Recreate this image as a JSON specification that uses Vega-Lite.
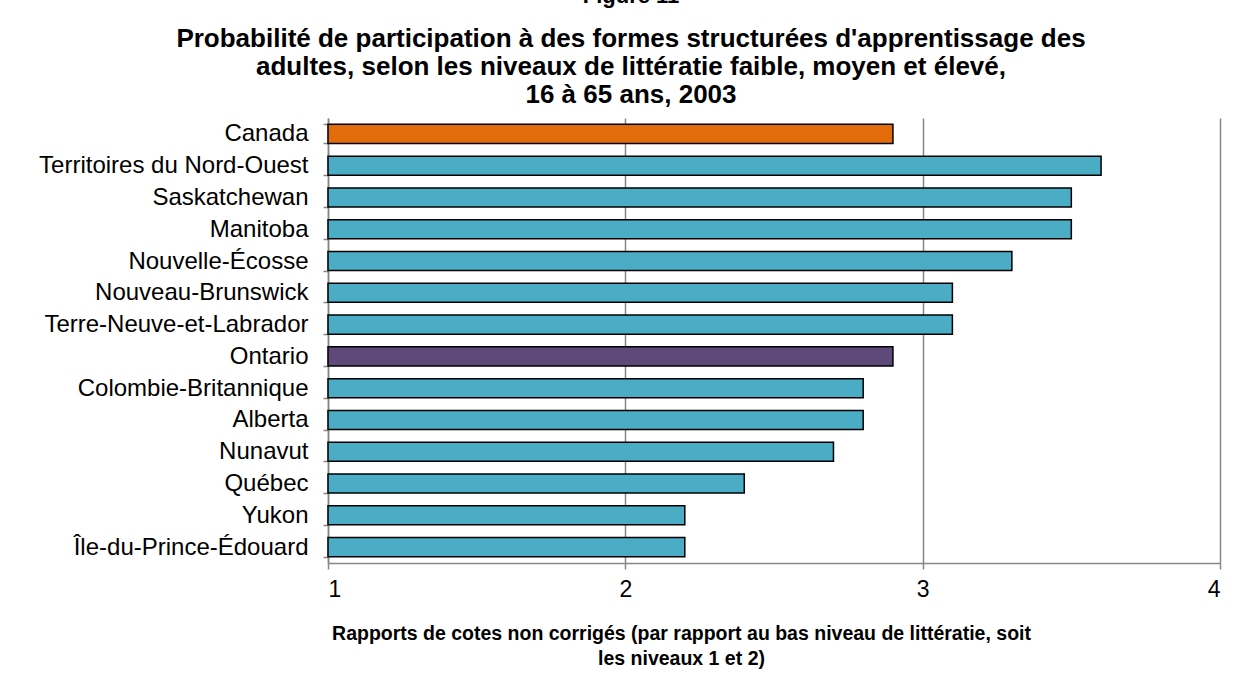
{
  "$schema": "https://vega.github.io/schema/vega-lite/v6.json",
  "autosize": {"type": "none"},
  "width": 892,
  "height": 445,
  "padding": {"left": 328, "top": 118, "right": 23, "bottom": 112},
  "background": "white",
  "title": {
    "text": "Figure 11",
    "subtitle": [
      "Probabilité de participation à des formes structurées d'apprentissage des",
      "adultes, selon les niveaux de littératie faible, moyen et élevé,",
      "16 à 65 ans, 2003"
    ],
    "anchor": "middle",
    "dx": -143,
    "font": "Liberation Sans",
    "fontSize": 22,
    "fontWeight": "bold",
    "color": "black",
    "subtitleFont": "Liberation Sans",
    "subtitleFontSize": 26,
    "subtitleFontWeight": "bold",
    "subtitleColor": "black",
    "subtitleLineHeight": 28,
    "subtitlePadding": 18,
    "offset": -3
  },
  "data": {
    "values": [
      {"region": "Canada", "odds": 2.9, "group": "Canada"},
      {"region": "Territoires du Nord-Ouest", "odds": 3.6, "group": "Autre"},
      {"region": "Saskatchewan", "odds": 3.5, "group": "Autre"},
      {"region": "Manitoba", "odds": 3.5, "group": "Autre"},
      {"region": "Nouvelle-Écosse", "odds": 3.3, "group": "Autre"},
      {"region": "Nouveau-Brunswick", "odds": 3.1, "group": "Autre"},
      {"region": "Terre-Neuve-et-Labrador", "odds": 3.1, "group": "Autre"},
      {"region": "Ontario", "odds": 2.9, "group": "Ontario"},
      {"region": "Colombie-Britannique", "odds": 2.8, "group": "Autre"},
      {"region": "Alberta", "odds": 2.8, "group": "Autre"},
      {"region": "Nunavut", "odds": 2.7, "group": "Autre"},
      {"region": "Québec", "odds": 2.4, "group": "Autre"},
      {"region": "Yukon", "odds": 2.2, "group": "Autre"},
      {"region": "Île-du-Prince-Édouard", "odds": 2.2, "group": "Autre"}
    ]
  },
  "mark": {"type": "bar", "stroke": "black", "strokeWidth": 1.5},
  "encoding": {
    "y": {
      "field": "region",
      "type": "nominal",
      "sort": null,
      "scale": {"paddingInner": 0.4, "paddingOuter": 0.2},
      "axis": {
        "title": null,
        "labelFont": "Liberation Sans",
        "labelFontSize": 24,
        "labelColor": "black",
        "labelPadding": 15,
        "labelLimit": 400,
        "tickBand": "extent",
        "tickSize": 5,
        "tickColor": "#868686",
        "tickWidth": 1.5,
        "domainColor": "#868686",
        "domainWidth": 1.5,
        "grid": false
      }
    },
    "x": {
      "field": "odds",
      "type": "quantitative",
      "scale": {"domain": [1, 4], "zero": false, "nice": false},
      "axis": {
        "values": [1, 2, 3, 4],
        "format": "d",
        "title": [
          "Rapports de cotes non corrigés (par rapport au bas niveau de littératie, soit",
          "les niveaux 1 et 2)"
        ],
        "titleX": 353,
        "titleFont": "Liberation Sans",
        "titleFontSize": 19.5,
        "titleFontWeight": "bold",
        "titleColor": "black",
        "titleLineHeight": 25,
        "titlePadding": 23,
        "labelFont": "Liberation Sans",
        "labelFontSize": 23,
        "labelColor": "black",
        "labelPadding": 9,
        "tickSize": 6,
        "tickColor": "#868686",
        "tickWidth": 1.5,
        "domainColor": "#868686",
        "domainWidth": 1.5,
        "grid": true,
        "gridColor": "#868686",
        "gridWidth": 1.5
      }
    },
    "x2": {"datum": 1},
    "color": {
      "field": "group",
      "type": "nominal",
      "scale": {"domain": ["Canada", "Ontario", "Autre"], "range": ["#E36C0A", "#5F497A", "#4BACC6"]},
      "legend": null
    }
  },
  "config": {"view": {"stroke": null}}
}
